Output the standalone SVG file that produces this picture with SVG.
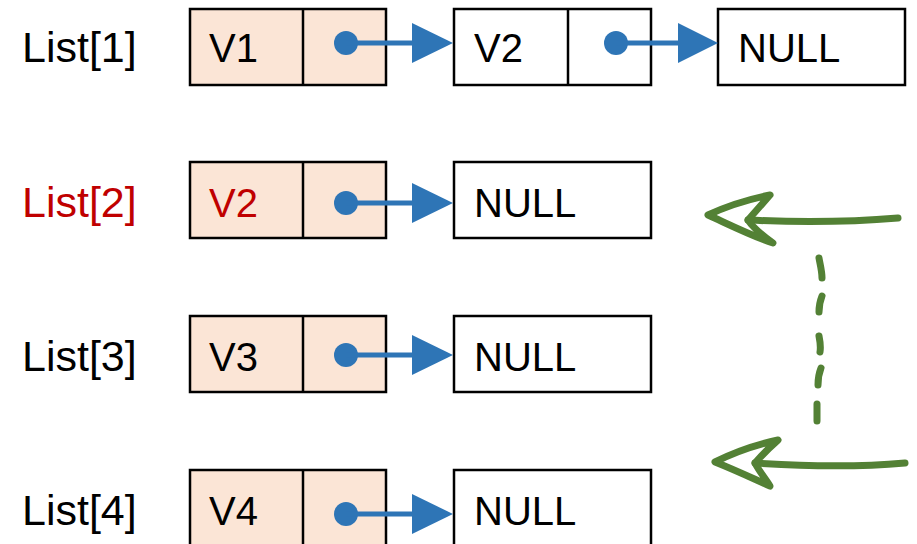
<svg xmlns="http://www.w3.org/2000/svg" width="917" height="544" viewBox="0 0 917 544">
<defs>
<style>
.t{font-family:"Liberation Sans",Arial,sans-serif;font-size:40px;fill:#000}
.lb{font-size:43px}
.red{fill:#C00000}
.cell{stroke:#000;stroke-width:2.5}
.hl{fill:#FBE5D6}
.wh{fill:#fff}
.ln{stroke:#2E75B6;stroke-width:5;fill:none}
.dot{fill:#2E75B6}
.hd{fill:#2E75B6}
.g{stroke:#538135;stroke-width:7;fill:none;stroke-linecap:round;stroke-linejoin:round}
</style>
</defs>
<rect width="917" height="544" fill="#fff"/>
<g id="labels">
<text class="t lb" x="22" y="62">List[1]</text>
<text class="t lb red" x="22" y="217">List[2]</text>
<text class="t lb" x="22" y="371">List[3]</text>
<text class="t lb" x="22" y="525">List[4]</text>
</g>
<g id="n1a">
<rect class="cell hl" x="190" y="9" width="196" height="76"/>
<line class="cell" x1="303" y1="9" x2="303" y2="85"/>
<text class="t" x="209" y="62">V1</text>
</g>
<g id="n1b">
<rect class="cell wh" x="454" y="9" width="197" height="76"/>
<line class="cell" x1="568" y1="9" x2="568" y2="85"/>
<text class="t" x="474" y="62">V2</text>
</g>
<g id="n1c">
<rect class="cell wh" x="718" y="9" width="187" height="76"/>
<text class="t" x="738" y="62">NULL</text>
</g>
<g id="n2a">
<rect class="cell hl" x="190" y="162" width="196" height="76"/>
<line class="cell" x1="303" y1="162" x2="303" y2="238"/>
<text class="t red" x="209" y="217">V2</text>
</g>
<g id="n2b">
<rect class="cell wh" x="454" y="162" width="197" height="76"/>
<text class="t" x="474" y="217">NULL</text>
</g>
<g id="n3a">
<rect class="cell hl" x="190" y="316" width="196" height="76"/>
<line class="cell" x1="303" y1="316" x2="303" y2="392"/>
<text class="t" x="209" y="371">V3</text>
</g>
<g id="n3b">
<rect class="cell wh" x="454" y="316" width="197" height="76"/>
<text class="t" x="474" y="371">NULL</text>
</g>
<g id="n4a">
<rect class="cell hl" x="190" y="470" width="196" height="80"/>
<line class="cell" x1="303" y1="470" x2="303" y2="550"/>
<text class="t" x="209" y="525">V4</text>
</g>
<g id="n4b">
<rect class="cell wh" x="454" y="470" width="197" height="80"/>
<text class="t" x="474" y="525">NULL</text>
</g>
<g id="connectors">
<circle class="dot" cx="346" cy="43" r="12"/>
<line class="ln" x1="346" y1="43" x2="414" y2="43"/>
<polygon class="hd" points="412,23 453,43 412,63"/>
<circle class="dot" cx="616" cy="43" r="12"/>
<line class="ln" x1="616" y1="43" x2="680" y2="43"/>
<polygon class="hd" points="678,23 718,43 678,63"/>
<circle class="dot" cx="346" cy="203" r="12"/>
<line class="ln" x1="346" y1="203" x2="414" y2="203"/>
<polygon class="hd" points="412,183 453,203 412,223"/>
<circle class="dot" cx="346" cy="355" r="12"/>
<line class="ln" x1="346" y1="355" x2="414" y2="355"/>
<polygon class="hd" points="412,335 453,355 412,375"/>
<circle class="dot" cx="346" cy="514" r="12"/>
<line class="ln" x1="346" y1="514" x2="414" y2="514"/>
<polygon class="hd" points="412,494 453,514 412,534"/>
</g>
<g id="green">
<path class="g" d="M898,218 C850,222 790,222 748,220"/>
<path class="g" d="M770,195 C745,200 725,207 708,215 C730,225 752,236 773,243 C762,235 753,228 748,220 C755,212 763,203 770,195 Z"/>
<path class="g" d="M905,463 C860,467 800,466 755,463"/>
<path class="g" d="M778,440 C755,445 733,453 715,462 C735,470 752,478 770,486 C765,478 759,471 755,463 C762,455 770,447 778,440 Z"/>
<path class="g" d="M819,258 C820,264 822,271 822,278 M822,296 C820,301 819,306 819,312 M819,336 C820,341 821,346 820,352 M821,368 C819,373 818,379 818,385 M817,404 C817,410 817,415 817,421"/>
</g>
</svg>
